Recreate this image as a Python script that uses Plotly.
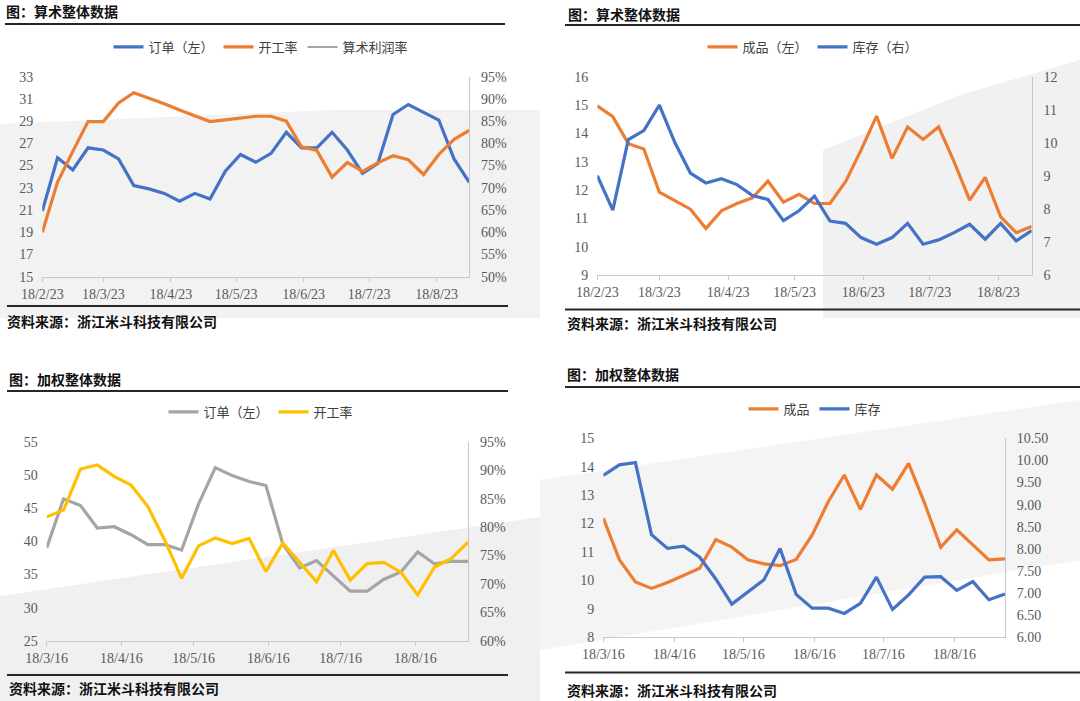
import plotly.graph_objects as go
import pandas as pd

W, H = 1080, 701

# ---------------- data ----------------
dates_a = pd.date_range("2018-02-23", periods=29, freq="7D")
dates_b = pd.date_range("2018-03-16", periods=26, freq="7D")

tickvals_a = ["2018-02-23", "2018-03-23", "2018-04-23", "2018-05-23",
              "2018-06-23", "2018-07-23", "2018-08-23"]
ticktext_a = ["18/2/23", "18/3/23", "18/4/23", "18/5/23", "18/6/23", "18/7/23", "18/8/23"]
tickvals_b = ["2018-03-16", "2018-04-16", "2018-05-16", "2018-06-16", "2018-07-16", "2018-08-16"]
ticktext_b = ["18/3/16", "18/4/16", "18/5/16", "18/6/16", "18/7/16", "18/8/16"]

# panel 1: 算术整体数据 (订单 left, 开工率 right %)
arith_orders = [20.9, 25.7, 24.6, 26.6, 26.4, 25.6, 23.2, 22.9, 22.5, 21.8, 22.5, 22.0, 24.5, 26.0,
                25.3, 26.1, 28.0, 26.6, 26.6, 28.0, 26.4, 24.3, 25.2, 29.6, 30.5, 29.8, 29.1, 25.6, 23.5]
arith_util = [60.0, 71.3, 78.2, 84.9, 84.9, 89.1, 91.4, 90.2, 88.9, 87.5, 86.2, 84.9, 85.3, 85.7,
              86.1, 86.1, 85.0, 79.2, 78.4, 72.4, 75.7, 73.7, 75.6, 77.2, 76.3, 73.0, 77.5, 80.9, 82.9]
arith_margin = [None]  # shown in legend only

# panel 2: 算术整体数据 (成品 left, 库存 right)
arith_finished = [14.97, 14.59, 13.64, 13.45, 11.93, 11.62, 11.33, 10.65, 11.27, 11.53, 11.73, 12.32,
                  11.58, 11.85, 11.53, 11.53, 12.30, 13.41, 14.61, 13.12, 14.23, 13.79, 14.23, 13.00,
                  11.65, 12.45, 11.06, 10.50, 10.72]
arith_stock = [9.01, 7.97, 10.10, 10.37, 11.14, 10.01, 9.09, 8.79, 8.92, 8.74, 8.41, 8.29, 7.65, 7.95,
               8.39, 7.64, 7.57, 7.14, 6.94, 7.14, 7.57, 6.94, 7.07, 7.29, 7.54, 7.09, 7.57, 7.04, 7.35]

# panel 3: 加权整体数据 (订单 left, 开工率 right %)
weighted_orders = [39.0, 46.4, 45.4, 42.0, 42.2, 41.0, 39.5, 39.5, 38.7, 45.6, 51.1, 49.9, 49.0,
                   48.4, 39.6, 36.0, 37.1, 34.8, 32.5, 32.5, 34.3, 35.4, 38.4, 36.6, 37.0, 37.0]
weighted_util = [81.8, 83.0, 90.2, 90.9, 88.9, 87.4, 83.6, 77.7, 71.0, 76.7, 78.1, 77.1, 78.0,
                 72.2, 77.2, 73.7, 70.4, 75.9, 70.7, 73.6, 73.8, 72.1, 68.1, 73.0, 74.5, 77.4]

# panel 4: 加权整体数据 (成品 left, 库存 right)
weighted_finished = [12.19, 10.73, 9.95, 9.72, 9.93, 10.19, 10.43, 11.44, 11.17, 10.73, 10.58, 10.52,
                     10.74, 11.60, 12.77, 13.71, 12.50, 13.71, 13.21, 14.12, 12.71, 11.17, 11.78,
                     11.25, 10.72, 10.76]
weighted_stock = [9.66, 9.90, 9.95, 8.32, 8.01, 8.06, 7.81, 7.32, 6.75, 7.03, 7.30, 8.01, 6.97, 6.66,
                  6.66, 6.54, 6.77, 7.36, 6.63, 6.96, 7.36, 7.37, 7.06, 7.26, 6.85, 6.98]

# ---------------- style ----------------
BLUE, ORANGE, GRAY, YELLOW = "#4472C4", "#ED7D31", "#A5A5A5", "#FFC000"
SERIF = "Liberation Serif, Noto Sans CJK SC, serif"
CJK = "Noto Sans CJK SC, sans-serif"
TICKFONT = dict(family=SERIF, size=14, color="#595959")
LW = 3.2


def fx(x):
    return x / W


def fy(y):
    return 1 - y / H


fig = go.Figure()

# panel 1
fig.add_trace(go.Scatter(x=dates_a, y=arith_orders, name="订单（左）", mode="lines",
                         line=dict(color=BLUE, width=LW), xaxis="x", yaxis="y", legend="legend"))
fig.add_trace(go.Scatter(x=dates_a, y=arith_util, name="开工率", mode="lines",
                         line=dict(color=ORANGE, width=LW), xaxis="x", yaxis="y2", legend="legend"))
fig.add_trace(go.Scatter(x=[None], y=arith_margin, name="算术利润率", mode="lines",
                         line=dict(color=GRAY, width=2), xaxis="x", yaxis="y2", legend="legend"))
# panel 2
fig.add_trace(go.Scatter(x=dates_a, y=arith_finished, name="成品（左）", mode="lines",
                         line=dict(color=ORANGE, width=LW), xaxis="x2", yaxis="y3", legend="legend2"))
fig.add_trace(go.Scatter(x=dates_a, y=arith_stock, name="库存（右）", mode="lines",
                         line=dict(color=BLUE, width=LW), xaxis="x2", yaxis="y4", legend="legend2"))
# panel 3
fig.add_trace(go.Scatter(x=dates_b, y=weighted_orders, name="订单（左）", mode="lines",
                         line=dict(color=GRAY, width=LW), xaxis="x3", yaxis="y5", legend="legend3"))
fig.add_trace(go.Scatter(x=dates_b, y=weighted_util, name="开工率", mode="lines",
                         line=dict(color=YELLOW, width=LW), xaxis="x3", yaxis="y6", legend="legend3"))
# panel 4
fig.add_trace(go.Scatter(x=dates_b, y=weighted_finished, name="成品", mode="lines",
                         line=dict(color=ORANGE, width=LW), xaxis="x4", yaxis="y7", legend="legend4"))
fig.add_trace(go.Scatter(x=dates_b, y=weighted_stock, name="库存", mode="lines",
                         line=dict(color=BLUE, width=LW), xaxis="x4", yaxis="y8", legend="legend4"))


def xaxis(dom, anchor, dates, tv, tt):
    return dict(domain=[fx(dom[0]), fx(dom[1])], anchor=anchor, type="date",
                range=[dates[0], dates[-1]], tickvals=tv, ticktext=tt, automargin=False,
                showgrid=False, zeroline=False, showline=True, linecolor="#c8c8c8",
                ticks="outside", ticklen=4, tickcolor="#c8c8c8", tickfont=TICKFONT)


def yleft(dom, anchor, rng, dtick, fmt=None):
    d = dict(domain=[fy(dom[1]), fy(dom[0])], anchor=anchor, range=rng, dtick=dtick,
             tick0=rng[0], showgrid=False, zeroline=False, showline=False, ticks="",
             automargin=False, tickfont=TICKFONT, ticklabelstandoff=8)
    if fmt:
        d["tickformat"] = fmt
    return d


def yright(over, anchor, rng, dtick, suffix="", fmt=None):
    d = dict(overlaying=over, side="right", anchor=anchor, range=rng, dtick=dtick, tick0=rng[0],
             showgrid=False, zeroline=False, showline=True, linecolor="#c8c8c8", ticks="",
             automargin=False, tickfont=TICKFONT, ticksuffix=suffix, ticklabelstandoff=8)
    if fmt:
        d["tickformat"] = fmt
    return d


def legend(xc, yc):
    return dict(orientation="h", x=fx(xc), y=fy(yc), xanchor="center", yanchor="middle",
                bgcolor="rgba(0,0,0,0)", itemwidth=30,
                font=dict(family=CJK, size=13, color="#404040"))


fig.update_layout(
    width=W, height=H, margin=dict(l=0, r=0, t=0, b=0, pad=0, autoexpand=False),
    paper_bgcolor="#ffffff", plot_bgcolor="rgba(0,0,0,0)",
    xaxis=xaxis((42.3, 469.3), "y", dates_a, tickvals_a, ticktext_a),
    yaxis=yleft((76.7, 276.7), "x", [15, 33], 2),
    yaxis2=yright("y", "x", [50, 95], 5, suffix="%"),
    xaxis2=xaxis((597.3, 1031.7), "y3", dates_a, tickvals_a, ticktext_a),
    yaxis3=yleft((76.7, 275.3), "x2", [9, 16], 1),
    yaxis4=yright("y3", "x2", [6, 12], 1),
    xaxis3=xaxis((46.7, 468.3), "y5", dates_b, tickvals_b, ticktext_b),
    yaxis5=yleft((441.7, 641.0), "x3", [25, 55], 5),
    yaxis6=yright("y5", "x3", [60, 95], 5, suffix="%"),
    xaxis4=xaxis((603.3, 1005.0), "y7", dates_b, tickvals_b, ticktext_b),
    yaxis7=yleft((438.3, 637.3), "x4", [8, 15], 1),
    yaxis8=yright("y7", "x4", [6, 10.5], 0.5, fmt=".2f"),
    legend=legend(261, 47),
    legend2=legend(813, 47),
    legend3=legend(261, 412),
    legend4=legend(815, 409),
)


# background tint polygons (pixel coordinates -> paper)
def poly(points, color):
    path = "M " + " L ".join(f"{fx(x):.4f},{fy(y):.4f}" for x, y in points) + " Z"
    return dict(type="path", path=path, xref="paper", yref="paper", fillcolor=color,
                line=dict(width=0), layer="below")


shapes = [
    poly([(0, 124), (333, 110), (540, 110), (540, 318), (0, 318)], "#f2f2f2"),
    poly([(823, 150), (960, 95), (1080, 60), (1080, 318), (823, 318)], "#f1f1f1"),
    poly([(0, 596), (540, 517), (540, 701), (0, 701)], "#f0f0f0"),
    poly([(540, 480), (1080, 400), (1080, 560), (540, 650)], "#f4f4f4"),
]


def rule(x0, x1, y):
    return dict(type="line", xref="paper", yref="paper", x0=fx(x0), x1=fx(x1), y0=fy(y), y1=fy(y),
                line=dict(color="#262626", width=1.8))


shapes += [rule(5, 505, 24), rule(7, 508, 306), rule(565, 1080, 25), rule(565, 1080, 309.5),
           rule(7, 508, 391), rule(7, 508, 675), rule(565, 1080, 387), rule(565, 1080, 672.5)]
fig.update_layout(shapes=shapes)


def text(x, y, s, bold=False):
    return dict(x=fx(x), y=fy(y), xref="paper", yref="paper", xanchor="left", yanchor="middle",
                text=f"<b>{s}</b>" if bold else s, showarrow=False,
                font=dict(family=CJK, size=14, color="#111111"))


SRC = "资料来源：浙江米斗科技有限公司"
fig.update_layout(annotations=[
    text(4, 11, "图：算术整体数据", True),
    text(566, 14, "图：算术整体数据", True),
    text(7, 379, "图：加权整体数据", True),
    text(565, 374, "图：加权整体数据", True),
    text(5, 321, SRC, True),
    text(565, 323, SRC, True),
    text(7, 688, SRC, True),
    text(565, 690, SRC, True),
])

fig.write_html("out.html", config={"displayModeBar": False},
               post_script="document.body.style.margin='0';document.body.style.overflow='hidden';")
